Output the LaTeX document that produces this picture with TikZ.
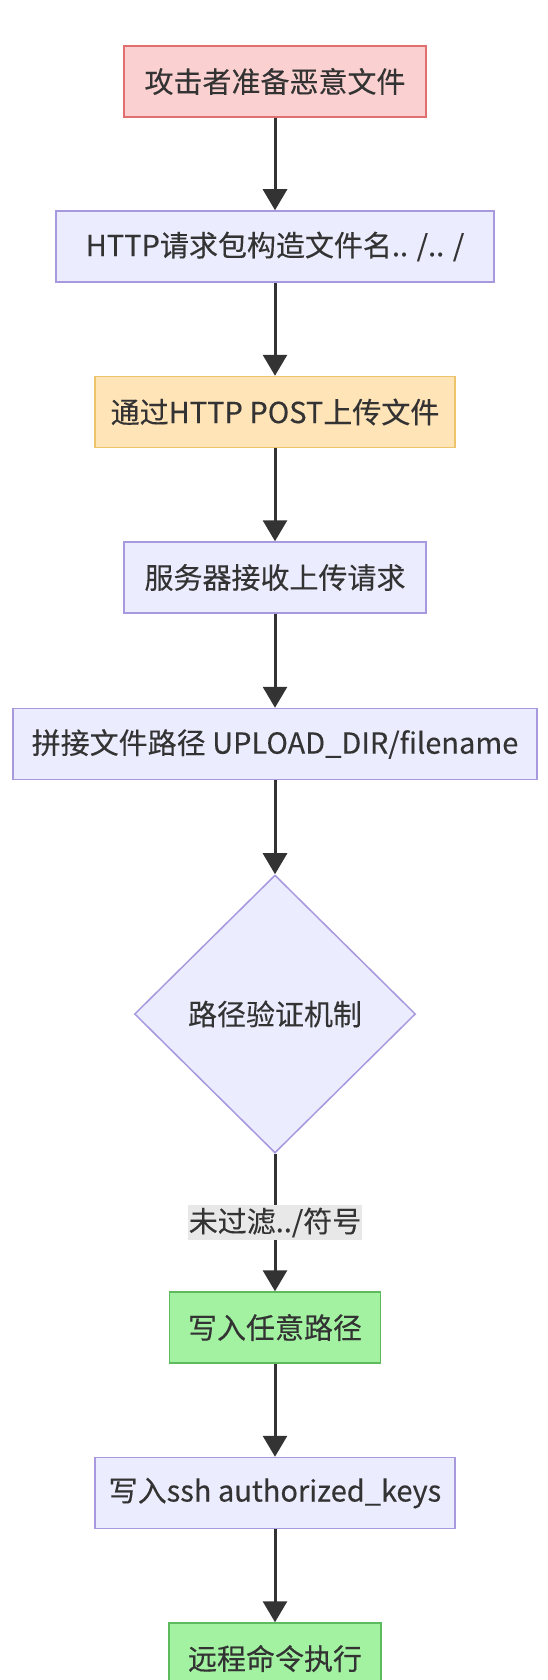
\documentclass[tikz,border=0pt]{standalone}
\usepackage{fontspec}
\setmainfont[FakeBold=0.25]{Noto Sans CJK SC}
\usetikzlibrary{shapes.geometric,arrows.meta}
\definecolor{txt}{HTML}{333333}
\definecolor{arrowc}{HTML}{333333}
\definecolor{redfill}{HTML}{FBD0D0}
\definecolor{redline}{HTML}{E07070}
\definecolor{purfill}{HTML}{ECECFF}
\definecolor{purline}{HTML}{A898DD}
\definecolor{orfill}{HTML}{FFE4B8}
\definecolor{orline}{HTML}{EEC46A}
\definecolor{grfill}{HTML}{A2F2A2}
\definecolor{grline}{HTML}{5DBB5D}
\definecolor{lblfill}{HTML}{E8E8E8}
\begin{document}
\begin{tikzpicture}[x=1pt,y=-1pt,
  box/.style={rectangle, line width=1.5pt, minimum height=71pt, inner sep=0pt,
    font=\fontsize{29}{35}\selectfont, text=txt},
  redbox/.style={box, draw=redline, fill=redfill},
  purbox/.style={box, draw=purline, fill=purfill},
  orbox/.style={box, draw=orline, fill=orfill},
  grbox/.style={box, draw=grline, fill=grfill},
  decision/.style={diamond, draw=purline, fill=purfill, line width=1.5pt, inner sep=0pt,
    minimum width=281pt, minimum height=278pt, font=\fontsize{29}{35}\selectfont, text=txt},
  lbl/.style={rectangle, fill=lblfill, inner xsep=1pt, inner ysep=0pt, minimum height=35pt,
    font=\fontsize{29}{35}\selectfont, text=txt},
  arr/.style={draw=arrowc, line width=3pt, -{Triangle[length=21pt,width=24pt]}}
]
\useasboundingbox (0,0) rectangle (548,1680);
\fill[white] (0,0) rectangle (548,1680);

\node[redbox, minimum width=302pt] (b1) at (275,81.5) {攻击者准备恶意文件};
\node[purbox, minimum width=438pt] (b2) at (275,246.5) {HTTP请求包构造文件名.. /.. /};
\node[orbox, minimum width=360pt] (b3) at (275,412) {通过HTTP POST上传文件};
\node[purbox, minimum width=302pt] (b4) at (275,577.5) {服务器接收上传请求};
\node[purbox, minimum width=524pt] (b5) at (275,744) {拼接文件路径 UPLOAD\_DIR/filename};
\node[decision] (d6) at (275,1014) {路径验证机制};
\node[grbox, minimum width=211pt] (b7) at (275,1327.5) {写入任意路径};
\node[purbox, minimum width=360pt] (b8) at (275,1493) {写入ssh authorized\_keys};
\node[grbox, minimum width=212pt] (b9) at (275,1658.5) {远程命令执行};

\draw[arr] (b1) -- (b2);
\draw[arr] (b2) -- (b3);
\draw[arr] (b3) -- (b4);
\draw[arr] (b4) -- (b5);
\draw[arr] (b5) -- (d6);
\draw[arr] (d6) -- node[lbl] (l6) {未过滤../符号} (b7);
\draw[arr] (b7) -- (b8);
\draw[arr] (b8) -- (b9);
\end{tikzpicture}
\end{document}
